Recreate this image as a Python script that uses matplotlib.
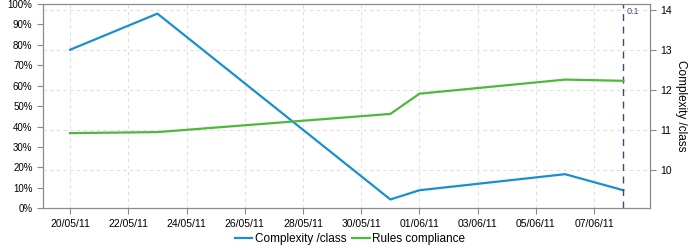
import numpy as np
import pandas as pd
import matplotlib
matplotlib.use("Agg")
import matplotlib.pyplot as plt
import matplotlib.dates as mdates
from matplotlib.ticker import FixedLocator, FuncFormatter

plt.rcParams['font.family'] = ['Liberation Sans', 'DejaVu Sans']

# data
cx_dates = ['2011-05-20', '2011-05-23', '2011-05-31', '2011-06-01', '2011-06-06', '2011-06-08']
complexity = [13.0, 13.9, 9.27, 9.5, 9.9, 9.5]
rc_dates = ['2011-05-20', '2011-05-23', '2011-05-31', '2011-06-01', '2011-06-06', '2011-06-08']
compliance = [36.8, 37.3, 46.2, 56.1, 63.0, 62.4]
event_date = '2011-06-08'
event_label = '0.1'
tick_dates = pd.date_range('2011-05-20', '2011-06-07', freq='2D')
pct_ticks = np.arange(0, 101, 10)
cx_ticks = [10, 11, 12, 13, 14]

blue = '#1a8fcf'
green = '#4cb93a'
spine_col = '#8a8a8a'
grid_col = '#e0e0e0'

fig = plt.figure(figsize=(7, 2.5), dpi=100)
ax = fig.add_axes([0.0614, 0.1668, 0.8672, 0.8172])
ax2 = ax.twinx()

ax.set_zorder(ax2.get_zorder() + 1)
ax.patch.set_visible(False)

cx_x = pd.to_datetime(cx_dates)
rc_x = pd.to_datetime(rc_dates)

ax2.plot(cx_x, complexity, color=blue, lw=1.6, zorder=3)
l1, = ax.plot([], [], color=blue, lw=1.6)
l2, = ax.plot(rc_x, compliance, color=green, lw=1.6, zorder=3)

ax.set_xlim(pd.Timestamp('2011-05-19 01:40'), pd.Timestamp('2011-06-08 22:00'))
ax.set_ylim(0, 100)
ax2.set_ylim(9.05, 14.14)

ax.xaxis.set_major_locator(FixedLocator(mdates.date2num(tick_dates)))
ax.xaxis.set_major_formatter(mdates.DateFormatter('%d/%m/%y'))
ax.yaxis.set_major_locator(FixedLocator(pct_ticks))
ax.yaxis.set_major_formatter(FuncFormatter(lambda v, p: '%d%%' % v))
ax2.yaxis.set_major_locator(FixedLocator(cx_ticks))

# grid: horizontal from right axis, vertical from dates
ax2.grid(axis='y', color=grid_col, ls=(0, (3, 3)), lw=0.8)
ax2.grid(axis='x', visible=False)
for d in tick_dates:
    ax2.axvline(d, color=grid_col, ls=(0, (3, 3)), lw=0.8, zorder=0)

ev = pd.Timestamp(event_date)
ax.axvline(ev, color='#3a4a70', ls=(0, (5, 4)), lw=1.0, zorder=2)
ax.text(ev + pd.Timedelta(hours=3), 98.5, event_label, color='#3a4a70',
        fontsize=6.5, va='top', ha='left')

for a in (ax, ax2):
    for s in a.spines.values():
        s.set_color(spine_col)
    a.tick_params(colors=spine_col, labelcolor='black', labelsize=7.5, length=4, width=0.8)
ax.tick_params(axis='y', labelsize=7)
ax.tick_params(axis='x', pad=4)

ax2.set_ylabel('Complexity /class', rotation=270, fontsize=8.5, labelpad=11)

fig.legend([l1, l2], ['Complexity /class', 'Rules compliance'], loc='center',
           bbox_to_anchor=(0.5, 0.044), ncol=2, frameon=False, fontsize=8.5,
           handlelength=1.5, handletextpad=0.2, columnspacing=0.5)

fig.savefig('out.png', dpi=100)
